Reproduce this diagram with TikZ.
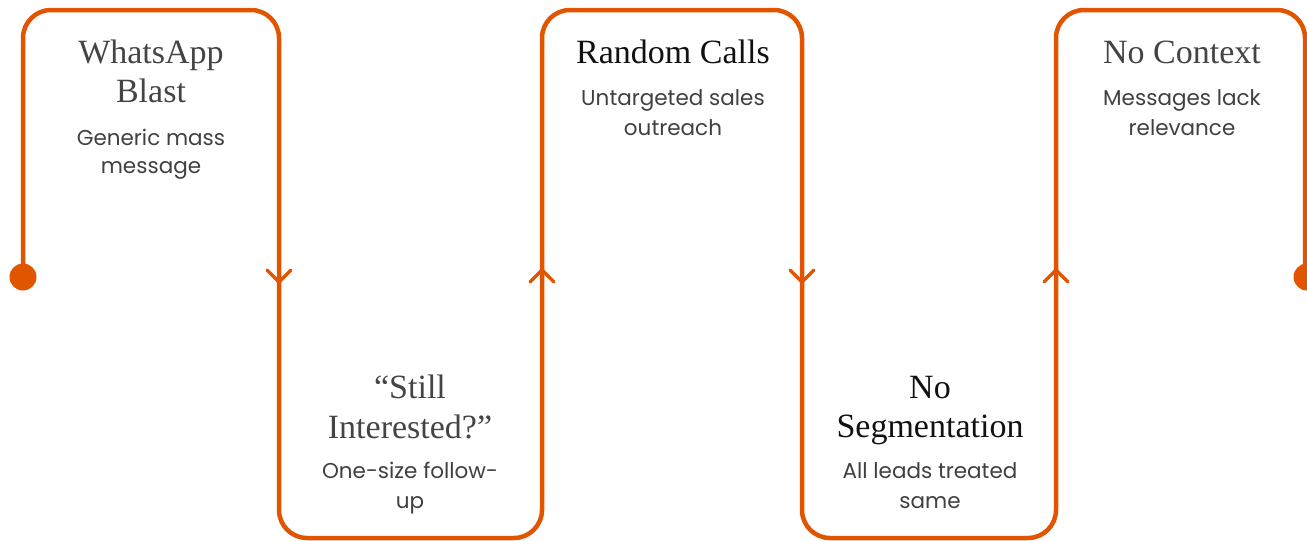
\documentclass[tikz,border=0pt]{standalone}
\usepackage{fontspec}
\setmainfont{Liberation Serif}
\newfontfamily\subfont{Poppins}
\definecolor{flow}{HTML}{E15500}
\definecolor{tgray}{HTML}{444444}
\definecolor{tblack}{HTML}{111111}
\definecolor{sgray}{HTML}{404040}
\tikzset{
  flowline/.style={draw=flow, line width=4.5pt, rounded corners=28pt},
  chev/.style={draw=flow, line width=3.5pt, line cap=round, line join=round},
  enddot/.style={circle, fill=flow, minimum size=27pt, inner sep=0pt},
  ttl/.style={anchor=base, inner sep=0pt, font=\fontsize{34}{40}\selectfont},
  sub/.style={anchor=base, inner sep=0pt, text=sgray, font=\subfont\fontsize{21.5}{28}\selectfont}
}
\begin{document}
\begin{tikzpicture}[x=1pt,y=-1pt]
\useasboundingbox (0,0) rectangle (1307,541);
% path corners
\coordinate (p0) at (23,277);
\coordinate (c1) at (23,10);
\coordinate (c2) at (279,10);
\coordinate (c3) at (279,538);
\coordinate (c4) at (542,538);
\coordinate (c5) at (542,10);
\coordinate (c6) at (802,10);
\coordinate (c7) at (802,538);
\coordinate (c8) at (1056,538);
\coordinate (c9) at (1056,10);
\coordinate (c10) at (1305,10);
\coordinate (p1) at (1305,277);
\draw[flowline] (p0) -- (c1) -- (c2) -- (c3) -- (c4) -- (c5) -- (c6) -- (c7) -- (c8) -- (c9) -- (c10) -- (p1);
\node[enddot] (startdot) at (p0) {};
\node[enddot] (enddot) at (1307,277) {};
% chevrons (yshift is in page direction: positive = up)
\coordinate (a1) at (279,282);
\coordinate (a2) at (542,270);
\coordinate (a3) at (802,282);
\coordinate (a4) at (1056,270);
\draw[chev] ([xshift=-12pt,yshift=12pt]a1) -- (a1) -- ([xshift=12pt,yshift=12pt]a1);
\draw[chev] ([xshift=-12pt,yshift=-12pt]a2) -- (a2) -- ([xshift=12pt,yshift=-12pt]a2);
\draw[chev] ([xshift=-12pt,yshift=12pt]a3) -- (a3) -- ([xshift=12pt,yshift=12pt]a3);
\draw[chev] ([xshift=-12pt,yshift=-12pt]a4) -- (a4) -- ([xshift=12pt,yshift=-12pt]a4);
% box 1
\node[ttl, text=tgray] (t1a) at (151,63) {WhatsApp};
\node[ttl, text=tgray] (t1b) at (151,102) {Blast};
\node[sub] (s1a) at (151,145) {Generic mass};
\node[sub] (s1b) at (151,173) {message};
% box 2
\node[ttl, text=tgray] (t2a) at (410,398) {“Still};
\node[ttl, text=tgray] (t2b) at (410,438) {Interested?”};
\node[sub] (s2a) at (410,478) {One-size follow-};
\node[sub] (s2b) at (410,508) {up};
% box 3
\node[ttl, text=tblack] (t3a) at (673,63) {Random Calls};
\node[sub] (s3a) at (673,105) {Untargeted sales};
\node[sub] (s3b) at (673,135) {outreach};
% box 4
\node[ttl, text=tblack] (t4a) at (930,398) {No};
\node[ttl, text=tblack] (t4b) at (930,437) {Segmentation};
\node[sub] (s4a) at (930,478) {All leads treated};
\node[sub] (s4b) at (930,508) {same};
% box 5
\node[ttl, text=tgray] (t5a) at (1182,63) {No Context};
\node[sub] (s5a) at (1182,105) {Messages lack};
\node[sub] (s5b) at (1182,135) {relevance};
\end{tikzpicture}
\end{document}
